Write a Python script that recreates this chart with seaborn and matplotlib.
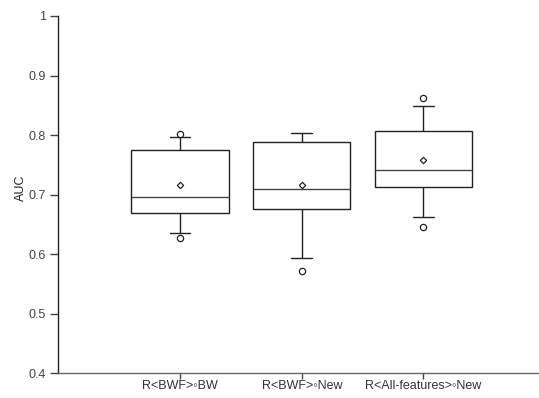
import numpy as np
import pandas as pd
import matplotlib
matplotlib.use("Agg")
import matplotlib.pyplot as plt
import seaborn as sns

# values (min, whisker low, Q1, ., median, ., Q3, whisker high, max)
categories = ["R<BWF>◦BW", "R<BWF>◦New", "R<All-features>◦New"]
bwf_bw = [0.627, 0.635, 0.669, 0.690, 0.6955, 0.7545, 0.775, 0.796, 0.802]
bwf_new = [0.571, 0.593, 0.676, 0.709, 0.710, 0.789, 0.789, 0.803, 0.803]
all_new = [0.645, 0.663, 0.713, 0.741, 0.741, 0.807, 0.807, 0.849, 0.862]

df = pd.DataFrame({
    "model": np.repeat(categories, [len(bwf_bw), len(bwf_new), len(all_new)]),
    "AUC": bwf_bw + bwf_new + all_new,
})

sns.set_style("white")
plt.rcParams["font.family"] = ["Liberation Sans", "DejaVu Sans"]

fig = plt.figure(figsize=(5.39, 3.98), dpi=100)
ax = fig.add_axes([0.1085, 0.0628, 0.8915, 0.897])

sns.boxplot(
    data=df, x="model", y="AUC", ax=ax,
    order=categories, width=0.8, whis=(12.5, 87.5),
    color="white", linecolor="#222222", linewidth=1.0,
    showmeans=True, capwidths=0.17,
    meanprops=dict(marker="D", markerfacecolor="white", markeredgecolor="#222222",
                   markersize=3.2, markeredgewidth=0.9),
    flierprops=dict(marker="o", markerfacecolor="white", markeredgecolor="#222222",
                    markersize=4.5, markeredgewidth=0.9),
    medianprops=dict(color="#444444", linewidth=1.0),
)

ax.set_xlim(-1.0, 2.95)
ax.set_ylim(0.4, 1.0)
ax.set_yticks([0.4, 0.5, 0.6, 0.7, 0.8, 0.9, 1.0])
ax.set_yticklabels(["0.4", "0.5", "0.6", "0.7", "0.8", "0.9", "1"])
ax.set_xlabel("")
ax.set_ylabel("AUC", fontsize=9, color="#222222")
ax.yaxis.set_label_coords(-0.066, 0.518)

for side in ["top", "right"]:
    ax.spines[side].set_visible(False)
ax.spines["left"].set_color("#222222")
ax.spines["bottom"].set_color("#666666")
ax.spines["left"].set_linewidth(1.0)
ax.spines["bottom"].set_linewidth(1.0)

ax.tick_params(axis="y", direction="out", length=6, width=1, color="#444444",
               labelsize=9, labelcolor="#444444", pad=3, left=True)
ax.tick_params(axis="x", direction="out", length=4, width=1, color="#444444",
               labelsize=9, labelcolor="#333333", pad=1, bottom=True)

fig.savefig("out.png", dpi=100)
